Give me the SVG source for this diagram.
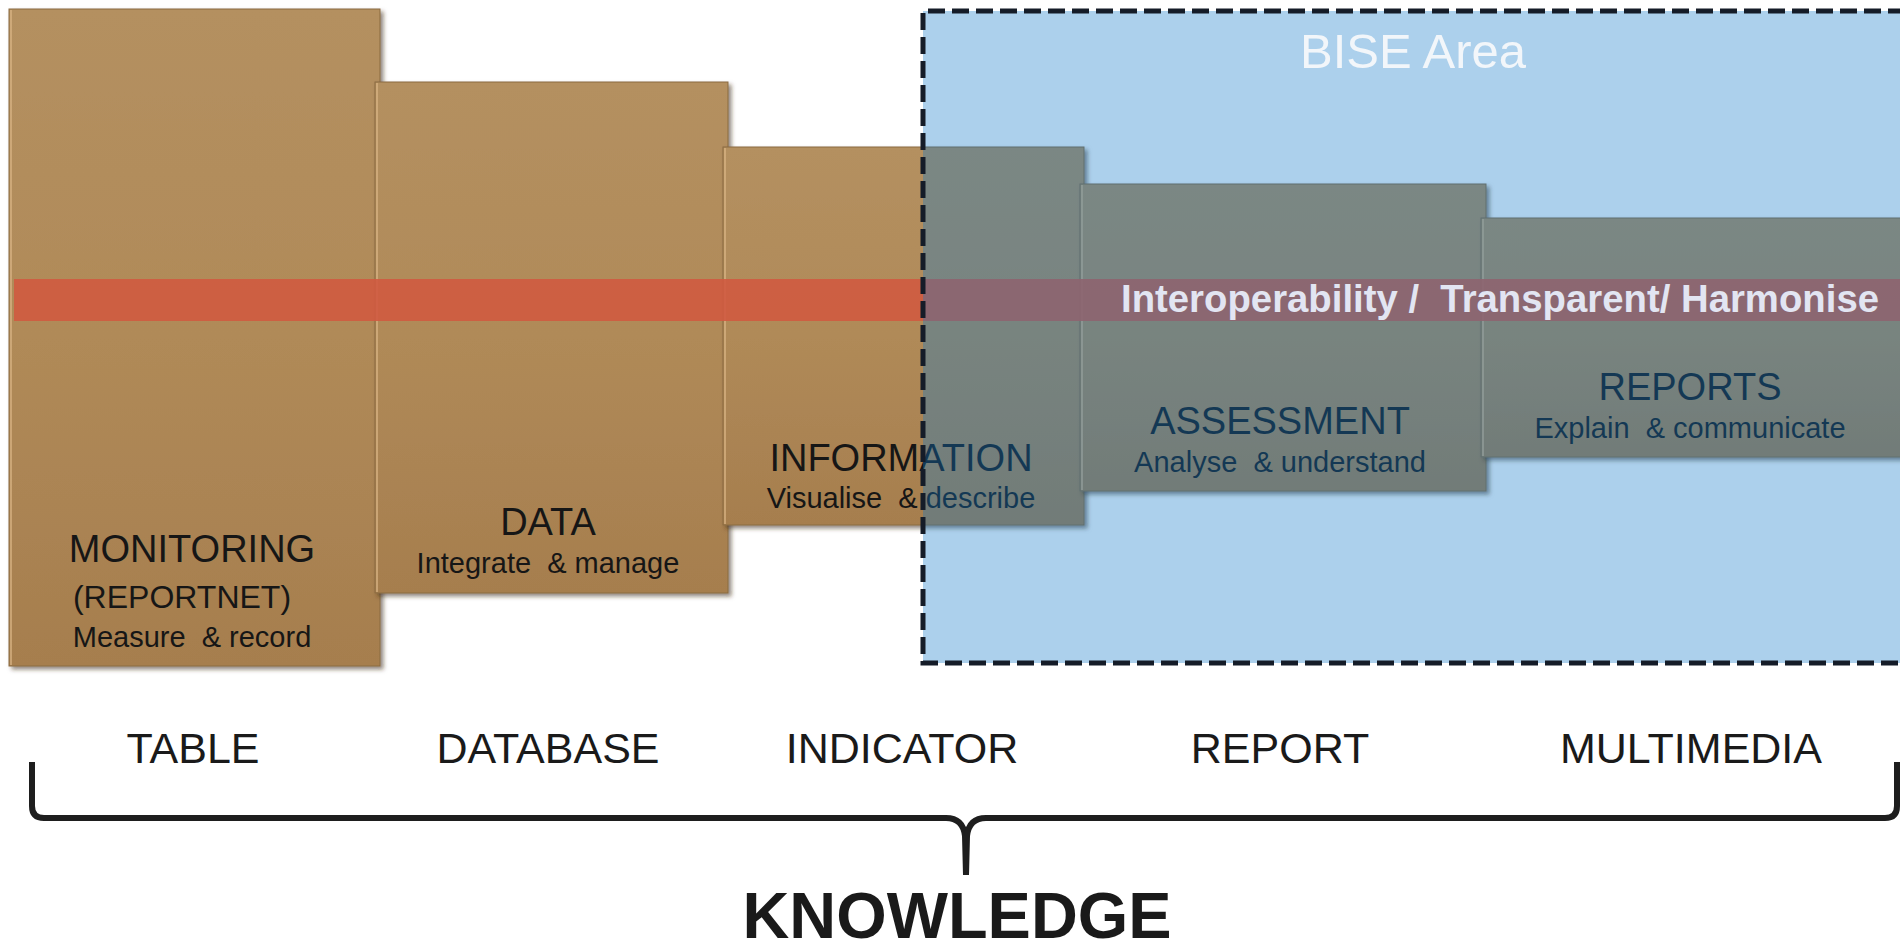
<svg xmlns="http://www.w3.org/2000/svg" width="1900" height="952" viewBox="0 0 1900 952">
  <defs>
    <linearGradient id="brown" x1="0" y1="0" x2="0" y2="1">
      <stop offset="0" stop-color="#b49060"/>
      <stop offset="0.5" stop-color="#b08a58"/>
      <stop offset="1" stop-color="#a67e4e"/>
    </linearGradient>
    <filter id="shadow" x="-5%" y="-5%" width="115%" height="115%">
      <feDropShadow dx="3" dy="3" stdDeviation="2" flood-color="#3a2a10" flood-opacity="0.55"/>
    </filter>
    <style>
      .box { fill: url(#brown); stroke: #8a6a40; stroke-width: 1; filter: url(#shadow); }
      .edge { fill: #d8b484; opacity: 0.7; }
      .title { font-family: "Liberation Sans", Arial, sans-serif; font-size: 38px; fill: #161616; text-anchor: middle; }
      .sub { font-family: "Liberation Sans", Arial, sans-serif; font-size: 29px; fill: #161616; text-anchor: middle; }
      .kind { font-family: "Liberation Sans", Arial, sans-serif; font-size: 43px; fill: #1a1a1a; text-anchor: middle; }
      .brace { fill: none; stroke: #1e1e1e; stroke-width: 6; stroke-linejoin: round; stroke-linecap: butt; }
    </style>
  </defs>

  <rect width="1900" height="952" fill="#ffffff"/>

  <!-- stepped stages, each one overlapping the previous -->
  <g id="monitoring">
    <rect class="box" x="9" y="9" width="371" height="657"/>
    <rect class="edge" x="10" y="10" width="2" height="655"/>
    <text class="title" x="192" y="562">MONITORING</text>
    <text class="title" x="182" y="608" style="font-size:32px">(REPORTNET)</text>
    <text class="sub" x="192" y="647" xml:space="preserve">Measure  &amp; record</text>
  </g>

  <g id="data">
    <rect class="box" x="375" y="82" width="353" height="511"/>
    <rect class="edge" x="376" y="83" width="2" height="509"/>
    <text class="title" x="548" y="535">DATA</text>
    <text class="sub" x="548" y="573" xml:space="preserve">Integrate  &amp; manage</text>
  </g>

  <g id="information">
    <rect class="box" x="723" y="147" width="361" height="378"/>
    <rect class="edge" x="724" y="148" width="2" height="376"/>
    <text class="title" x="901" y="471">INFORMATION</text>
    <text class="sub" x="901" y="508" xml:space="preserve">Visualise  &amp; describe</text>
  </g>

  <g id="assessment">
    <rect class="box" x="1080" y="184" width="406" height="307"/>
    <rect class="edge" x="1081" y="185" width="2" height="305"/>
    <text class="title" x="1280" y="434">ASSESSMENT</text>
    <text class="sub" x="1280" y="472" xml:space="preserve">Analyse  &amp; understand</text>
  </g>

  <g id="reports">
    <rect class="box" x="1481" y="218" width="425" height="239"/>
    <rect class="edge" x="1482" y="219" width="2" height="237"/>
    <text class="title" x="1690" y="400">REPORTS</text>
    <text class="sub" x="1690" y="438" xml:space="preserve">Explain  &amp; communicate</text>
  </g>

  <!-- cross-cutting band -->
  <g id="band">
    <rect x="14" y="279" width="1890" height="42" fill="#d05a40" opacity="0.9"/>
  </g>

  <!-- translucent BISE region laid over the later stages -->
  <g id="bise-area">
    <rect x="923" y="11" width="985" height="652" fill="rgb(17,120,200)" opacity="0.35"/>
    <path d="M1905 11 H923 V663 H1905" fill="none" stroke="#151c28" stroke-width="5" stroke-dasharray="17 7"/>
    <text x="1300" y="68" font-family="'Liberation Sans', Arial, sans-serif" font-size="49" fill="#f2f6fa">BISE Area</text>
  </g>

  <g id="band-label">
    <text x="1121" y="312" font-family="'Liberation Sans', Arial, sans-serif" font-size="38" font-weight="bold" fill="#e2e5f2" textLength="758" lengthAdjust="spacingAndGlyphs" xml:space="preserve">Interoperability /  Transparent/ Harmonise</text>
  </g>

  <!-- output kinds -->
  <g id="kinds">
    <text class="kind" x="193" y="763">TABLE</text>
    <text class="kind" x="548" y="763">DATABASE</text>
    <text class="kind" x="902" y="763">INDICATOR</text>
    <text class="kind" x="1280" y="763">REPORT</text>
    <text class="kind" x="1691" y="763">MULTIMEDIA</text>
  </g>

  <!-- brace gathering everything into knowledge -->
  <g id="connectors">
    <path class="brace" d="M32 762 V806 Q32 818 44 818 H946 Q963 818 965 836 L966 875"/>
    <path class="brace" d="M966 875 L967 836 Q969 818 986 818 H1885 Q1897 818 1897 806 V762"/>
  </g>

  <g id="knowledge">
    <text x="957" y="938" font-family="'Liberation Sans', Arial, sans-serif" font-size="64" font-weight="bold" fill="#1a1a1a" text-anchor="middle" textLength="429" lengthAdjust="spacingAndGlyphs">KNOWLEDGE</text>
  </g>
</svg>
